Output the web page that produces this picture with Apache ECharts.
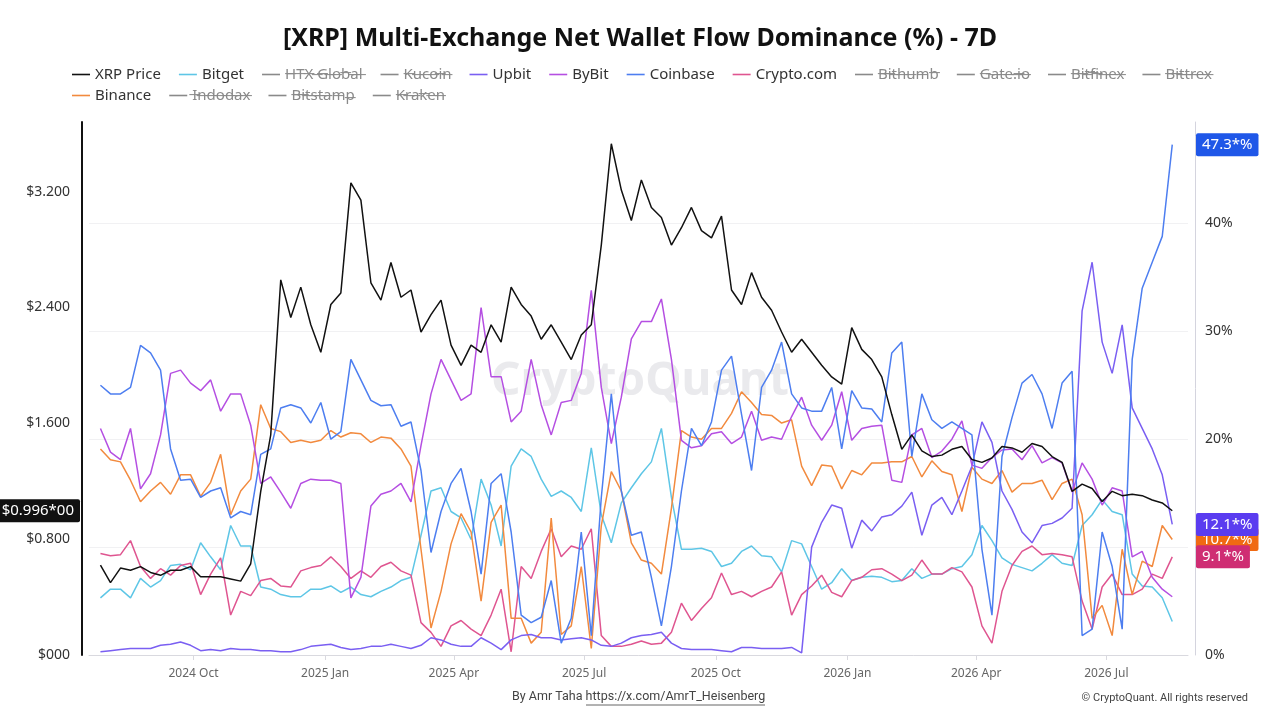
<!DOCTYPE html>
<html><head><meta charset="utf-8">
<script src="https://cdn.jsdelivr.net/npm/echarts@6/dist/echarts.min.js"></script>
<style>html,body{margin:0;padding:0;background:#fff}#c{width:1280px;height:720px}</style>
</head><body><div id="c"></div>
<script>
// ---- data (weekly points) ----
const startDate = '2024-07-28';
const stepDays = 7;
const xrpPrice = [0.62,0.50,0.60,0.585,0.61,0.57,0.55,0.585,0.585,0.61,0.54,0.54,0.54,0.525,0.51,0.63,1.13,1.52,2.59,2.33,2.54,2.28,2.09,2.42,2.50,3.26,3.14,
2.57,2.45,2.71,2.47,2.52,2.23,2.35,2.45,2.14,2.00,2.14,2.09,2.28,2.16,2.54,2.42,2.34,2.18,2.28,2.16,2.04,2.21,2.28,2.83,3.53,3.21,3.00,
3.28,3.09,3.02,2.83,2.95,3.09,2.93,2.88,3.03,2.52,2.42,2.64,2.47,2.38,2.23,2.09,2.18,2.09,2.00,1.92,1.87,2.26,2.11,2.04,1.92,1.66,1.42,
1.52,1.41,1.37,1.38,1.42,1.44,1.35,1.33,1.36,1.44,1.43,1.40,1.46,1.44,1.37,1.33,1.13,1.18,1.15,1.06,1.13,1.10,1.11,1.10,1.07,1.05,0.996];
const bitget = [5.3,6.1,6.1,5.3,7.1,6.3,6.9,8.3,8.4,7.9,10.4,9.1,7.9,12.0,10.1,10.1,6.3,6.1,5.6,5.4,5.4,6.1,6.1,6.4,5.8,6.3,5.6,
5.4,5.9,6.3,6.9,7.2,11.1,15.2,15.5,13.3,12.7,10.7,16.3,13.9,10.1,17.5,19.1,18.4,16.3,14.7,15.2,14.6,13.3,19.2,13.0,10.4,14.1,15.5,
16.8,17.9,21.0,14.6,9.8,9.8,9.9,9.6,8.2,8.5,9.6,10.1,9.2,9.1,7.7,10.6,10.3,8.2,6.1,6.7,8.0,6.9,7.2,7.3,7.2,6.8,6.9,
8.0,7.1,7.5,7.5,8.0,8.2,9.3,12.0,10.6,9.0,8.4,8.1,7.8,8.5,9.3,8.5,8.3,12.0,13.0,14.4,13.3,13.0,7.5,6.4,6.3,5.3,3.1];
const upbit = [0.3,0.4,0.5,0.6,0.6,0.6,0.9,1.0,1.2,0.9,0.4,0.5,0.4,0.6,0.5,0.5,0.4,0.4,0.3,0.3,0.5,0.8,0.9,1.0,0.7,0.5,0.6,
0.8,0.8,1.0,0.8,0.6,0.9,1.6,1.4,1.0,0.8,0.8,1.6,1.1,0.5,1.4,1.8,1.9,1.6,1.6,1.4,1.5,1.6,1.4,0.9,0.8,1.1,1.6,
1.8,1.9,2.1,1.1,0.6,0.5,0.5,0.5,0.4,0.3,0.7,0.7,0.6,0.6,0.6,0.7,0.2,10.0,12.3,13.9,13.6,9.9,12.5,11.5,12.8,13.0,13.8,
15.1,11.1,13.9,14.6,13.0,15.2,17.5,21.6,19.7,15.2,13.5,11.4,10.4,12.0,12.2,12.7,13.6,31.9,36.4,29.0,26.1,30.6,22.9,21.0,19.1,16.7,12.1];
const bybit = [21.0,18.8,18.1,21.0,15.4,16.8,20.4,26.1,26.4,25.2,24.5,25.5,22.6,24.2,24.2,21.3,15.9,16.5,15.1,13.6,15.9,16.3,16.2,16.2,15.9,5.3,7.2,
13.8,14.9,15.2,15.9,14.2,19.4,24.2,27.4,25.5,23.6,24.2,32.2,25.8,25.8,21.6,22.6,27.4,23.2,20.4,23.4,23.6,26.1,33.8,24.8,19.6,23.9,29.3,
30.9,30.9,33.0,27.4,19.9,19.2,19.4,20.5,20.7,19.6,20.2,22.6,19.9,20.2,20.0,22.1,23.9,21.3,19.9,21.3,24.4,19.9,21.0,21.2,21.3,16.2,16.0,
20.4,21.0,18.3,18.9,20.0,21.7,17.6,17.3,18.3,19.0,19.1,18.1,19.4,17.8,18.3,17.8,15.1,17.8,16.3,13.9,15.5,15.2,9.1,9.6,7.2,6.1,5.4];
const coinbase = [25.0,24.2,24.2,24.8,28.7,28.0,26.4,19.1,16.2,16.3,14.6,15.2,15.5,12.7,13.3,13.0,18.6,19.1,22.9,23.2,22.9,21.5,23.4,20.0,20.7,27.4,25.5,
23.6,23.1,23.2,21.2,21.6,17.1,9.5,13.3,15.9,17.3,13.3,7.5,15.9,16.8,11.4,3.7,3.0,3.5,6.9,1.1,3.4,11.4,1.8,14.6,24.2,15.2,11.1,
11.4,7.2,2.7,8.2,15.2,21.0,19.4,21.6,26.4,27.7,22.3,17.1,24.8,26.4,29.0,24.2,22.9,22.6,22.6,24.8,19.1,24.5,22.9,22.8,21.6,28.0,29.0,
18.4,24.2,21.8,21.0,21.6,21.0,20.4,9.8,3.7,18.4,22.0,25.2,26.0,24.2,21.0,25.2,26.3,1.8,2.4,11.4,8.2,2.4,27.4,34.0,36.4,38.8,47.3];
const cryptoCom = [9.4,9.2,9.3,10.6,8.2,7.1,8.0,7.4,8.3,8.5,5.6,7.5,9.0,3.7,5.9,5.5,6.9,7.1,6.4,6.3,7.8,8.1,8.3,9.1,8.2,7.1,7.8,
7.2,8.2,8.6,7.8,7.4,3.0,2.1,0.8,2.7,3.2,2.4,1.8,3.7,6.1,0.3,8.2,7.1,9.6,11.7,9.1,10.1,9.8,11.7,1.8,0.8,0.8,1.0,
1.3,1.0,1.1,2.1,4.8,3.2,4.3,5.3,7.6,5.6,5.9,5.4,5.9,6.3,7.7,3.7,5.6,6.4,7.4,5.8,5.4,6.9,7.2,7.9,8.0,7.5,6.9,
7.4,8.8,7.5,7.5,8.1,7.7,6.3,2.7,1.1,5.9,8.3,9.6,10.1,9.3,9.4,9.3,9.1,5.0,2.4,6.3,7.5,5.6,5.6,6.1,7.5,7.1,9.1];
const binance = [19.1,18.1,17.9,16.2,14.2,15.2,16.0,14.9,16.7,16.7,14.7,16.0,18.6,13.0,15.2,16.3,23.2,21.0,20.7,19.7,19.9,19.7,19.9,20.8,20.2,20.6,20.5,
19.7,20.2,20.1,19.1,17.5,9.8,2.5,5.9,10.3,13.1,11.4,5.0,12.3,13.9,3.4,3.4,1.1,2.1,12.7,1.9,2.7,8.2,0.6,12.0,17.0,15.2,10.4,
8.8,8.5,7.5,13.6,20.8,20.2,20.0,21.0,21.0,22.4,24.4,23.4,22.3,22.2,21.5,21.8,17.5,15.7,17.6,17.5,15.4,17.1,16.7,17.8,17.8,17.9,17.9,
18.4,16.5,18.0,17.0,16.7,13.3,17.4,16.3,15.9,17.1,15.1,15.9,15.9,16.2,14.4,15.9,16.3,13.0,3.4,4.6,1.8,9.8,5.6,8.7,8.2,12.0,10.7];

const legendRow1 = ['XRP Price','Bitget','HTX Global','Kucoin','Upbit','ByBit','Coinbase','Crypto.com','Bithumb','Gate.io','Bitfinex','Bittrex'];
const legendRow2 = ['Binance','Indodax','Bitstamp','Kraken'];
const hiddenExchanges = ['HTX Global','Kucoin','Bithumb','Gate.io','Bitfinex','Bittrex','Indodax','Bitstamp','Kraken'];
const quarterTicks = ['2024-10-01','2025-01-01','2025-04-01','2025-07-01','2025-10-01','2026-01-01','2026-04-01','2026-07-01'];
const monthNames = ['Jan','Feb','Mar','Apr','May','Jun','Jul','Aug','Sep','Oct','Nov','Dec'];
const priceStep = 0.8;
const pctStep = 10;

// ---- helpers ----
function utc(s){const p=s.split('-').map(Number);return Date.UTC(p[0],p[1]-1,p[2]);}
const t0 = utc(startDate);
const dates = xrpPrice.map((_,i)=>t0 + i*stepDays*86400000);
const pair = arr => arr.map((v,i)=>[dates[i], v]);
const strike = s => s.split('').map(c=>c+'\u0336').join('');

const colors = {
  'XRP Price':'#111111','Bitget':'#5ec6e6','Upbit':'#7a5ff2','ByBit':'#b54fe2',
  'Coinbase':'#4d7ef0','Crypto.com':'#df5590','Binance':'#f28a3e'
};
const FONT = "'Noto Sans', 'Open Sans', sans-serif";

const series = [];
function addLine(name, data, yIdx){
  series.push({name, type:'line', yAxisIndex:yIdx, data:pair(data), symbol:'none', showSymbol:false,
    lineStyle:{width:1.5, color:colors[name]}, itemStyle:{color:colors[name]}, emphasis:{disabled:true}, z:2});
}
addLine('Bitget', bitget, 1);
addLine('Crypto.com', cryptoCom, 1);
addLine('Binance', binance, 1);
addLine('Upbit', upbit, 1);
addLine('ByBit', bybit, 1);
addLine('Coinbase', coinbase, 1);
hiddenExchanges.forEach(n=>series.push({name:n, type:'line', yAxisIndex:1, data:[], symbol:'none',
  lineStyle:{width:1.5, color:'#888'}, itemStyle:{color:'#888'}}));
addLine('XRP Price', xrpPrice, 0);

const selected = {}; hiddenExchanges.forEach(n=>selected[n]=false);

const legendBase = {
  orient:'horizontal', left:67, icon:'rect', itemWidth:18, itemHeight:1.6, itemGap:18,
  textStyle:{fontSize:15, color:'#333', fontFamily:FONT},
  inactiveColor:'#8a8a8a', inactiveBorderColor:'#8a8a8a',
  selected, formatter: n => hiddenExchanges.includes(n) ? strike(n) : n
};

const tickVals = quarterTicks.map(utc);
const chart = echarts.init(document.getElementById('c'), null, {renderer:'canvas'});
chart.setOption({
  animation:false,
  backgroundColor:'#fff',
  title:{text:'[XRP] Multi-Exchange Net Wallet Flow Dominance (%) - 7D', left:'center', top:21,
    textStyle:{fontSize:25, fontWeight:'bold', color:'#111', fontFamily:FONT}},
  legend:[Object.assign({}, legendBase, {top:62, data:legendRow1}),
          Object.assign({}, legendBase, {top:83, data:legendRow2})],
  grid:{left:89, right:92, top:122, bottom:65, containLabel:false},
  xAxis:{type:'value', min:utc('2024-07-20'), max:utc('2026-08-27'), scale:true,
    axisLine:{lineStyle:{color:'#d9d9df'}},
    axisTick:{show:true, length:5, lineStyle:{color:'#d9d9df'}, customValues:tickVals},
    axisLabel:{color:'#666', fontSize:12, fontFamily:FONT, margin:13, customValues:tickVals,
      formatter:v=>{const d=new Date(v);return d.getUTCFullYear()+' '+monthNames[d.getUTCMonth()];}},
    splitLine:{show:false}},
  yAxis:[
    {type:'value', position:'left', offset:7, min:0, max:3.68, interval:priceStep,
      axisLine:{show:true, lineStyle:{color:'#111', width:2}}, axisTick:{show:false},
      splitLine:{show:false},
      axisLabel:{color:'#333', fontSize:14, fontFamily:FONT, margin:12,
        formatter:v=>{const k=v/priceStep; if(Math.abs(k-Math.round(k))>1e-6) return ''; return v===0?'$000':'$'+v.toFixed(3);}}},
    {type:'value', position:'right', offset:7, min:0, max:49.4, interval:pctStep,
      axisLine:{show:true, lineStyle:{color:'#d4d4de', width:1}}, axisTick:{show:false},
      splitLine:{show:true, showMaxLine:false, lineStyle:{color:'#f1f1f3', width:1}},
      axisLabel:{color:'#333', fontSize:14, fontFamily:FONT, margin:10,
        formatter:v=>{const k=v/pctStep; if(Math.abs(k-Math.round(k))>1e-6) return ''; return v+'%';}}}
  ],
  series
});

// ---- value tags on the axes, positioned through the axes' scales ----
const last = a => a[a.length-1];
const yR = v => chart.convertToPixel({yAxisIndex:1}, v);
const yL = v => chart.convertToPixel({yAxisIndex:0}, v);
function tag(id, text, y, bg, x, align){
  return {id, type:'text', z:100, style:{x, y, text, fill:'#fff', font:'15px '+FONT, align, verticalAlign:'middle',
    backgroundColor:bg, padding:[4,6,4,6], borderRadius:2}};
}
const gfx = [
  {id:'wm', type:'text', z:0, style:{x:640, y:382, text:'CryptoQuant', fill:'rgba(190,190,200,0.33)',
    font:'bold 46px '+FONT, align:'center', verticalAlign:'middle'}},
  {id:'foot', type:'text', style:{x:512, y:697, text:'By Amr Taha https://x.com/AmrT_Heisenberg', fill:'#444',
    font:'12.5px Roboto, sans-serif', align:'left', verticalAlign:'middle'}},
  {id:'footline', type:'line', shape:{x1:586, y1:705, x2:765, y2:705}, style:{stroke:'#666', lineWidth:1}},
  {id:'copy', type:'text', style:{x:1248, y:698, text:'\u00a9 CryptoQuant. All rights reserved', fill:'#444',
    font:'11px Roboto, sans-serif', align:'right', verticalAlign:'middle'}},
  tag('tCoin', last(coinbase).toFixed(1)+'*%', yR(last(coinbase)), '#1f57e8', 1196, 'left'),
  tag('tBin', last(binance).toFixed(1)+'*%', yR(last(binance)), '#f06a12', 1196, 'left'),
  tag('tUp', last(upbit).toFixed(1)+'*%', yR(last(upbit)), '#5a3cf0', 1196, 'left'),
  tag('tCc', last(cryptoCom).toFixed(1)+'*%', yR(last(cryptoCom)), '#cf2d73', 1196, 'left'),
  tag('tPx', '$'+last(xrpPrice).toFixed(3)+'*00', yL(last(xrpPrice)), '#111', 80, 'right')
];
chart.setOption({graphic:gfx});
</script></body></html>
